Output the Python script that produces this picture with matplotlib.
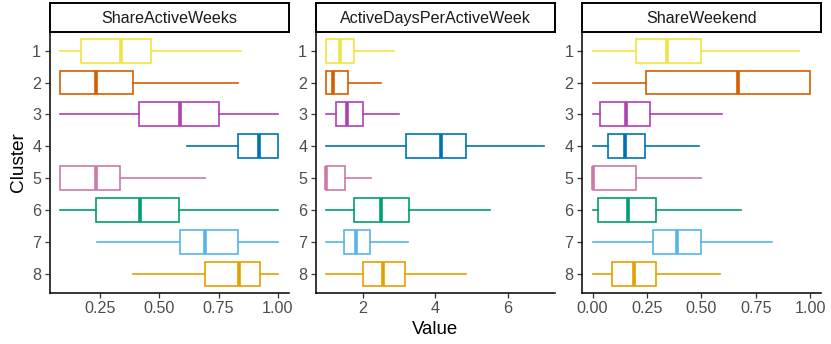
import matplotlib
matplotlib.use("Agg")
import matplotlib.pyplot as plt

plt.rcParams['font.family'] = ['Liberation Sans', 'DejaVu Sans']

clusters = ["1", "2", "3", "4", "5", "6", "7", "8"]
colors = ["#F0E442", "#D55E00", "#B040B0", "#0072B2", "#CC79A7", "#009E73", "#56B4E9", "#E69F00"]
panels = ["ShareActiveWeeks", "ActiveDaysPerActiveWeek", "ShareWeekend"]

# per panel: whisker low, q1, median, q3, whisker high (one entry per cluster)
saw_lo  = [0.083, 0.083, 0.083, 0.618, 0.083, 0.083, 0.236, 0.388]
saw_q1  = [0.170, 0.083, 0.416, 0.832, 0.083, 0.233, 0.587, 0.691]
saw_med = [0.337, 0.233, 0.587, 0.921, 0.233, 0.419, 0.692, 0.837]
saw_q3  = [0.465, 0.388, 0.750, 1.000, 0.336, 0.584, 0.833, 0.923]
saw_hi  = [0.844, 0.833, 1.000, 1.000, 0.691, 1.000, 1.000, 1.000]

adw_lo  = [1.00, 1.00, 1.00, 1.00, 1.00, 1.00, 1.00, 1.00]
adw_q1  = [1.00, 1.00, 1.27, 3.20, 1.00, 1.75, 1.49, 2.01]
adw_med = [1.37, 1.17, 1.57, 4.16, 1.00, 2.51, 1.81, 2.55]
adw_q3  = [1.75, 1.61, 2.01, 4.84, 1.51, 3.27, 2.21, 3.16]
adw_hi  = [2.87, 2.51, 3.00, 7.00, 2.24, 5.50, 3.24, 4.85]

swe_lo  = [0.000, 0.000, 0.000, 0.000, 0.000, 0.000, 0.000, 0.000]
swe_q1  = [0.198, 0.247, 0.035, 0.072, 0.000, 0.027, 0.278, 0.089]
swe_med = [0.342, 0.667, 0.153, 0.151, 0.000, 0.165, 0.386, 0.189]
swe_q3  = [0.500, 1.000, 0.263, 0.241, 0.200, 0.290, 0.500, 0.290]
swe_hi  = [0.947, 1.000, 0.597, 0.490, 0.498, 0.682, 0.826, 0.588]

panel_data = [
    (saw_lo, saw_q1, saw_med, saw_q3, saw_hi),
    (adw_lo, adw_q1, adw_med, adw_q3, adw_hi),
    (swe_lo, swe_q1, swe_med, swe_q3, swe_hi),
]
xticks = [[0.25, 0.50, 0.75, 1.00], [2, 4, 6], [0.00, 0.25, 0.50, 0.75, 1.00]]
xticklabels = [["0.25", "0.50", "0.75", "1.00"], ["2", "4", "6"],
               ["0.00", "0.25", "0.50", "0.75", "1.00"]]

W, H = 831, 344
fig = plt.figure(figsize=(W / 100, H / 100), dpi=100)

lefts = [49.5, 315.5, 581.7]
pw = 239.3
top_px, bot_px = 31.5, 293.0
strip_top = 3.0
grey = "#4D4D4D"

for p in range(3):
    l = lefts[p] / W
    ax = fig.add_axes([l, 1 - bot_px / H, pw / W, (bot_px - top_px) / H])
    lo, q1, med, q3, hi = panel_data[p]
    for i in range(len(clusters)):
        st = [{'whislo': lo[i], 'q1': q1[i], 'med': med[i], 'q3': q3[i],
               'whishi': hi[i], 'fliers': []}]
        c = colors[i]
        ax.bxp(st, positions=[i + 1], widths=0.75, orientation='horizontal',
               showcaps=False, showfliers=False, patch_artist=True,
               boxprops=dict(facecolor='white', edgecolor=c, linewidth=1.2),
               whiskerprops=dict(color=c, linewidth=1.2),
               medianprops=dict(color=c, linewidth=2.6, solid_capstyle='butt'),
               manage_ticks=False)
    allv = lo + hi
    mn, mx = min(allv), max(allv)
    pad = (mx - mn) * 0.05
    ax.set_xlim(mn - pad, mx + pad)
    ax.set_ylim(len(clusters) + 0.6, 0.4)
    ax.set_yticks(range(1, len(clusters) + 1))
    ax.set_yticklabels(clusters)
    ax.set_xticks(xticks[p])
    ax.set_xticklabels(xticklabels[p])
    for s in ['top', 'right']:
        ax.spines[s].set_visible(False)
    for s in ['left', 'bottom']:
        ax.spines[s].set_linewidth(1.1)
        ax.spines[s].set_color('black')
    ax.tick_params(axis='both', direction='out', length=3.5, width=0.9,
                   color='#333333', labelcolor=grey, labelsize=11.6, pad=2.5)
    # strip
    sax = fig.add_axes([l, 1 - top_px / H, pw / W, (top_px - strip_top) / H])
    sax.set_xticks([]); sax.set_yticks([])
    for s in sax.spines.values():
        s.set_linewidth(1.4)
        s.set_color('black')
    sax.text(0.5, 0.47, panels[p], ha='center', va='center', fontsize=11.6,
             color='#1A1A1A', transform=sax.transAxes)

fig.text(18 / W, 1 - 162 / H, "Cluster", rotation=90, ha='center', va='center',
         fontsize=13.7)
fig.text(435 / W, 1 - 330 / H, "Value", ha='center', va='center', fontsize=13.4)

fig.savefig("out.png", dpi=100)
